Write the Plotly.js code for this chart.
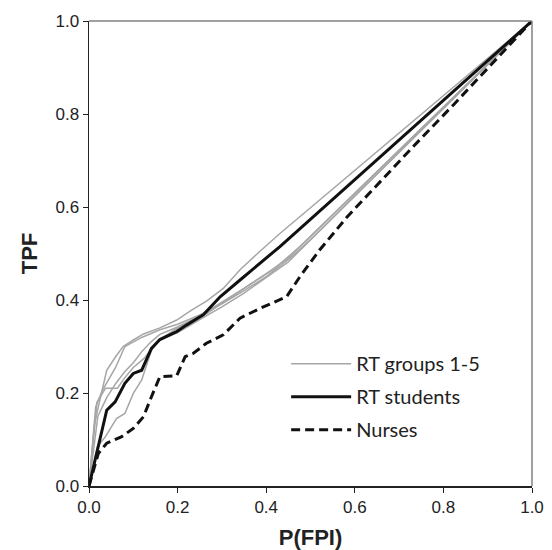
<!DOCTYPE html>
<html>
<head>
<meta charset="utf-8">
<script src="https://cdn.plot.ly/plotly-3.0.1.min.js"></script>
<style>html,body{margin:0;padding:0;background:#fff;}#chart{width:552px;height:550px;}</style>
</head>
<body>
<div id="chart"></div>
<script>
// RT groups 1-5 (grey)
const g1x = [0, 0.012, 0.021, 0.040, 0.060, 0.077, 0.100, 0.123, 0.160, 0.198, 0.228, 0.266, 0.303, 0.341, 0.386, 0.431, 1];
const g1y = [0, 0.130, 0.170, 0.249, 0.278, 0.300, 0.314, 0.327, 0.340, 0.357, 0.376, 0.398, 0.425, 0.465, 0.505, 0.543, 1];
const g2x = [0, 0.015, 0.030, 0.060, 0.081, 0.100, 0.120, 0.160, 0.200, 0.250, 0.300, 0.350, 0.400, 0.460, 0.500, 1];
const g2y = [0, 0.170, 0.205, 0.255, 0.300, 0.310, 0.320, 0.336, 0.348, 0.368, 0.392, 0.420, 0.450, 0.495, 0.530, 1];
const g3x = [0, 0.018, 0.037, 0.064, 0.080, 0.100, 0.125, 0.145, 0.165, 0.205, 0.266, 0.311, 0.356, 0.416, 0.476, 1];
const g3y = [0, 0.180, 0.210, 0.210, 0.232, 0.255, 0.275, 0.300, 0.318, 0.343, 0.371, 0.400, 0.429, 0.465, 0.515, 1];
const g4x = [0, 0.019, 0.037, 0.062, 0.081, 0.100, 0.119, 0.141, 0.160, 0.200, 0.250, 0.300, 0.350, 0.400, 0.450, 1];
const g4y = [0, 0.085, 0.106, 0.145, 0.156, 0.199, 0.228, 0.292, 0.315, 0.330, 0.358, 0.385, 0.415, 0.448, 0.482, 1];
const g5x = [0, 0.020, 0.040, 0.060, 0.080, 0.100, 0.120, 0.140, 0.160, 0.200, 0.250, 0.300, 0.350, 0.400, 0.450, 1];
const g5y = [0, 0.150, 0.190, 0.220, 0.245, 0.265, 0.290, 0.310, 0.326, 0.342, 0.366, 0.395, 0.425, 0.457, 0.490, 1];
// RT students (black solid)
const stX = [0, 0.040, 0.059, 0.081, 0.100, 0.119, 0.141, 0.160, 0.198, 0.220, 0.258, 0.296, 0.341, 0.431, 1];
const stY = [0, 0.163, 0.181, 0.221, 0.242, 0.249, 0.296, 0.315, 0.332, 0.346, 0.368, 0.407, 0.443, 0.515, 1];
// Nurses (black dashed)
const nuX = [0, 0.021, 0.040, 0.074, 0.100, 0.123, 0.141, 0.160, 0.198, 0.217, 0.235, 0.265, 0.303, 0.341, 0.386, 0.446, 0.476, 0.521, 0.582, 0.657, 0.732, 0.823, 0.898, 1];
const nuY = [0, 0.070, 0.092, 0.106, 0.124, 0.149, 0.192, 0.235, 0.237, 0.278, 0.285, 0.307, 0.325, 0.361, 0.382, 0.407, 0.450, 0.508, 0.578, 0.655, 0.730, 0.820, 0.896, 1];
const legendNames = ["RT groups 1-5", "RT students", "Nurses"];
const xTicks = [0, 0.2, 0.4, 0.6, 0.8, 1.0];
const xTickText = ["0.0", "0.2", "0.4", "0.6", "0.8", "1.0"];
const yTicks = [0, 0.2, 0.4, 0.6, 0.8, 1.0];
const yTickText = ["0.0", "0.2", "0.4", "0.6", "0.8", "1.0"];

const grey = '#a6a6a6';
const greySets = [[g1x, g1y], [g2x, g2y], [g3x, g3y], [g4x, g4y], [g5x, g5y]];
const traces = greySets.map((s, i) => ({
  x: s[0], y: s[1], mode: 'lines', type: 'scatter',
  line: {color: grey, width: 1.5},
  name: legendNames[0], legendgroup: 'g', showlegend: i === 0, hoverinfo: 'skip'
}));
traces.push({x: stX, y: stY, mode: 'lines', type: 'scatter', line: {color: '#111', width: 3}, name: legendNames[1], legendgroup: 's'});
traces.push({x: nuX, y: nuY, mode: 'lines', type: 'scatter', line: {color: '#111', width: 3, dash: '9px,5px'}, name: legendNames[2], legendgroup: 'n'});

const tickFont = {family: 'Arial', size: 17, color: '#222'};
const titleFont = {family: 'Arial', size: 22, color: '#222', weight: 'bold'};

const layout = {
  width: 552, height: 550,
  margin: {l: 89, r: 20, t: 21, b: 64},
  paper_bgcolor: '#fff', plot_bgcolor: '#fff',
  showlegend: true,
  legend: {x: 0.445, y: 0.305, xanchor: 'left', yanchor: 'top', traceorder: 'grouped', tracegroupgap: 4,
    font: {family: 'Lato', size: 20, color: '#222'}, bgcolor: 'rgba(0,0,0,0)', itemwidth: 60},
  xaxis: {range: [0, 1], tickvals: xTicks, ticktext: xTickText, ticks: 'outside', ticklen: 5, tickcolor: '#222',
    showline: true, linecolor: '#222', linewidth: 1.5, showgrid: false, zeroline: false, tickfont: tickFont,
    title: {text: '<b>P(FPI)</b>', font: titleFont, standoff: 15}},
  yaxis: {range: [0, 1], tickvals: yTicks, ticktext: yTickText, ticks: 'outside', ticklen: 5, tickcolor: '#222',
    showline: true, linecolor: '#222', linewidth: 1.5, showgrid: false, zeroline: false, tickfont: tickFont,
    title: {text: '<b>TPF</b>', font: titleFont, standoff: 12}},
  shapes: [
    {type: 'line', xref: 'paper', yref: 'paper', x0: 0, x1: 1, y0: 1, y1: 1, line: {color: '#808080', width: 1.5}},
    {type: 'line', xref: 'paper', yref: 'paper', x0: 1, x1: 1, y0: 0, y1: 1, line: {color: '#808080', width: 1.5}}
  ]
};
Plotly.newPlot('chart', traces, layout, {staticPlot: true});
</script>
</body>
</html>
